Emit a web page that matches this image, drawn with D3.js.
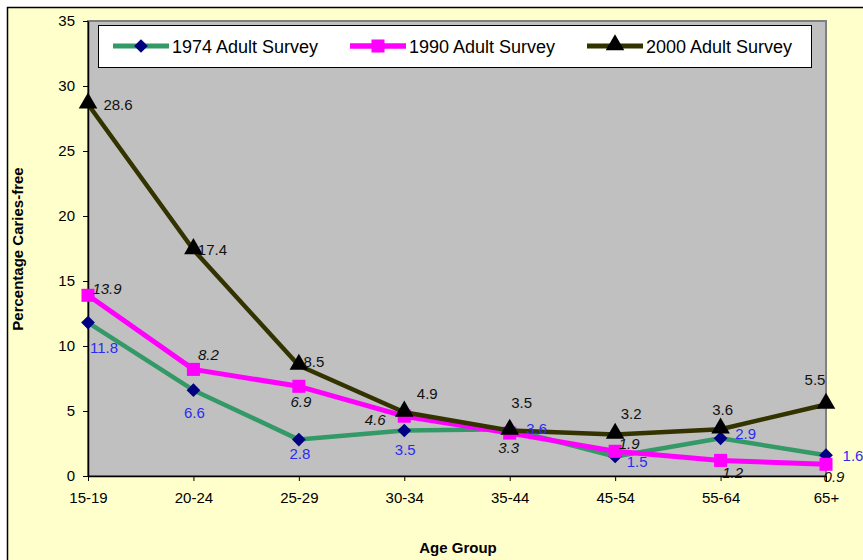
<!DOCTYPE html>
<html>
<head>
<meta charset="utf-8">
<script src="https://cdn.jsdelivr.net/npm/d3@7/dist/d3.min.js"></script>
<style>
  html, body { margin: 0; padding: 0; background: #ffffff; }
  svg { display: block; }
  text { font-family: Arial, "Liberation Sans", sans-serif; }
</style>
</head>
<body>
<svg id="chart" width="863" height="560"></svg>
<script>
// Age groups along the x axis
const categories = ["15-19", "20-24", "25-29", "30-34", "35-44", "45-54", "55-64", "65+"];

// Percentage caries-free by survey year
const survey1974 = [11.8, 6.6, 2.8, 3.5, 3.6, 1.5, 2.9, 1.6];
const survey1990 = [13.9, 8.2, 6.9, 4.6, 3.3, 1.9, 1.2, 0.9];
const survey2000 = [28.6, 17.4, 8.5, 4.9, 3.5, 3.2, 3.6, 5.5];

const seriesNames = ["1974 Adult Survey", "1990 Adult Survey", "2000 Adult Survey"];
const yTicks = [0, 5, 10, 15, 20, 25, 30, 35];

// Where each value label sits relative to its marker (dx, dy in px)
const labelShift1974 = [[16, 25], [1, 23], [1, 14], [1, 19], [27, 0], [22, 5], [25, -5], [27, 1]];
const labelShift1990 = [[19, -7], [15, -15], [2, 15], [-29, 4], [-1, 15], [14, -8], [12, 12], [8, 12]];
const labelShift2000 = [[30, 1], [19, 0], [15, -4], [23, -19], [12, -28], [16, -21], [2, -19], [-11, -25]];

const svg = d3.select("#chart");

// Chart area background and outer frame
svg.append("rect").attr("x", 0).attr("y", 0).attr("width", 863).attr("height", 560).attr("fill", "#ffffff");
svg.append("rect").attr("x", 7.5).attr("y", 7.5).attr("width", 870).attr("height", 570)
  .attr("fill", "#FFFFCC").attr("stroke", "#000").attr("stroke-width", 1.5);

const plot = { left: 88, right: 826, top: 21, bottom: 476 };

const x = d3.scalePoint().domain(categories).range([plot.left, plot.right]).padding(0);
const y = d3.scaleLinear().domain([0, 35]).range([plot.bottom, plot.top]);

// Plot area
svg.append("rect")
  .attr("x", plot.left).attr("y", plot.top)
  .attr("width", plot.right - plot.left).attr("height", plot.bottom - plot.top)
  .attr("fill", "#C0C0C0").attr("stroke", "#808080").attr("stroke-width", 2);

// Axes
const yAxis = svg.append("g")
  .attr("transform", `translate(${plot.left},0)`)
  .call(d3.axisLeft(y).tickValues(yTicks).tickSize(5).tickPadding(8).tickSizeOuter(0));
const xAxis = svg.append("g")
  .attr("transform", `translate(0,${plot.bottom})`)
  .call(d3.axisBottom(x).tickSize(5).tickPadding(11).tickSizeOuter(0));

[yAxis, xAxis].forEach(g => {
  g.select(".domain").attr("stroke", "#000").attr("stroke-width", 1.5);
  g.selectAll(".tick line").attr("stroke", "#000").attr("stroke-width", 1);
  g.selectAll(".tick text").attr("fill", "#000").style("font-size", "15px")
    .style("font-family", "Arial, 'Liberation Sans', sans-serif");
});

// Axis titles
svg.append("text")
  .attr("x", 458).attr("y", 553)
  .attr("text-anchor", "middle")
  .style("font-size", "15px").style("font-weight", "bold")
  .text("Age Group");

svg.append("text")
  .attr("transform", "translate(23,249) rotate(-90)")
  .attr("text-anchor", "middle")
  .style("font-size", "15px").style("font-weight", "bold")
  .text("Percentage Caries-free");

const series = [
  { name: seriesNames[0], values: survey1974, line: "#339966", width: 4.5, marker: "diamond", fill: "#000080",
    shift: labelShift1974, labelColor: "#2B2BF0", italic: false },
  { name: seriesNames[1], values: survey1990, line: "#FF00FF", width: 5, marker: "square", fill: "#FF00FF",
    shift: labelShift1990, labelColor: "#111", italic: true },
  { name: seriesNames[2], values: survey2000, line: "#333300", width: 4.5, marker: "triangle", fill: "#000000",
    shift: labelShift2000, labelColor: "#111", italic: false }
];

const symbolFor = {
  diamond: d3.symbol().type(d3.symbolDiamond2).size(120),
  square: d3.symbol().type(d3.symbolSquare).size(170),
  triangle: d3.symbol().type(d3.symbolTriangle).size(150)
};

const line = d3.line()
  .x((d, i) => x(categories[i]))
  .y(d => y(d));

series.forEach(s => {
  const g = svg.append("g");
  g.append("path")
    .datum(s.values)
    .attr("d", line)
    .attr("fill", "none")
    .attr("stroke", s.line)
    .attr("stroke-width", s.width)
    .attr("stroke-linejoin", "round");
  g.selectAll("path.marker")
    .data(s.values)
    .join("path")
    .attr("class", "marker")
    .attr("transform", (d, i) => `translate(${x(categories[i])},${y(d) + (s.marker === "triangle" ? -1 : 0)})`)
    .attr("d", symbolFor[s.marker])
    .attr("fill", s.fill);
});

// Value labels
series.forEach(s => {
  svg.append("g").selectAll("text")
    .data(s.values)
    .join("text")
    .attr("x", (d, i) => x(categories[i]) + s.shift[i][0])
    .attr("y", (d, i) => y(d) + s.shift[i][1])
    .attr("dy", "0.35em")
    .attr("text-anchor", "middle")
    .attr("fill", s.labelColor)
    .style("font-size", "15px")
    .style("font-style", s.italic ? "italic" : "normal")
    .text(d => d.toFixed(1));
});

// Legend
const legend = svg.append("g");
legend.append("rect")
  .attr("x", 98.5).attr("y", 25.5).attr("width", 713).attr("height", 42)
  .attr("fill", "#fff").attr("stroke", "#000").attr("stroke-width", 1);

const legendX = [113, 350, 587];
series.forEach((s, k) => {
  const lx = legendX[k];
  legend.append("line")
    .attr("x1", lx).attr("x2", lx + 56).attr("y1", 46).attr("y2", 46)
    .attr("stroke", s.line).attr("stroke-width", s.width + 0.5);
  legend.append("path")
    .attr("transform", `translate(${lx + 28},${46 + (s.marker === "triangle" ? -1 : 0)})`)
    .attr("d", symbolFor[s.marker])
    .attr("fill", s.fill);
  legend.append("text")
    .attr("x", lx + 59).attr("y", 53)
    .style("font-size", "18px")
    .attr("fill", "#000")
    .text(s.name);
});
</script>
</body>
</html>
